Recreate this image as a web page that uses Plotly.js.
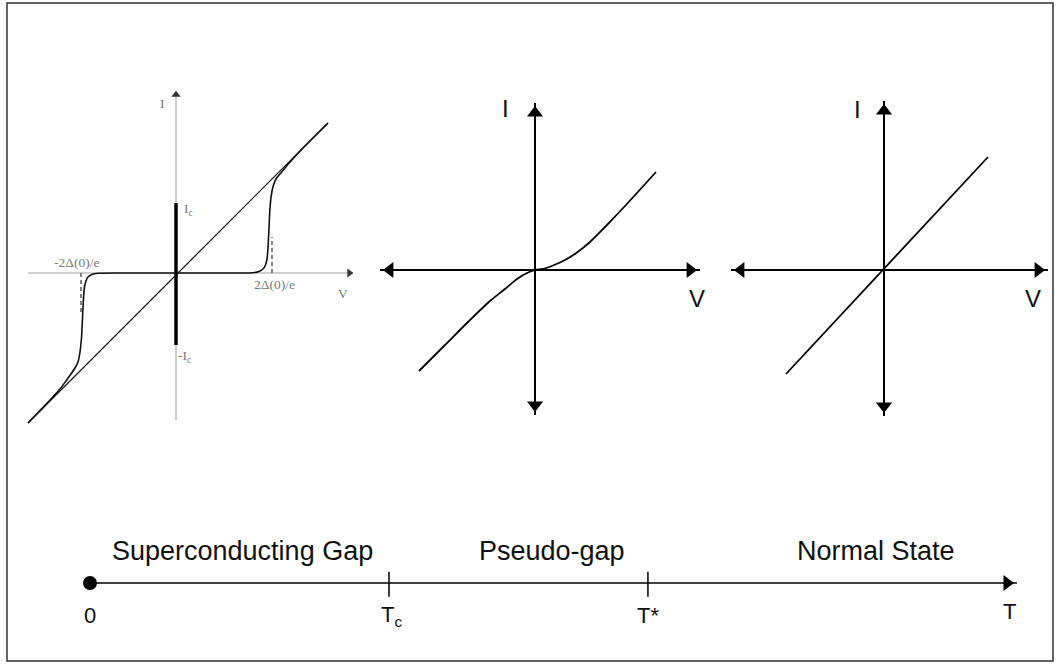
<!DOCTYPE html>
<html><head><meta charset="utf-8">
<script src="https://cdn.plot.ly/plotly-3.0.1.min.js"></script>
<style>html,body{margin:0;padding:0;background:#fff}</style>
</head><body>
<div id="chart" style="width:1057px;height:664px"></div>
<script>
// ---- Data ----
// Panel 1: superconducting gap I-V (quasiparticle branches)
const scRightV = [0, 0.60, 0.77, 0.83, 0.87, 0.895, 0.91, 0.92, 0.93, 0.94, 0.955, 0.975, 1.00, 1.04, 1.09, 1.15, 1.25, 1.52];
const scRightI = [0, 0, 0.003, 0.015, 0.04, 0.08, 0.14, 0.25, 0.45, 0.65, 0.79, 0.88, 0.94, 0.99, 1.05, 1.12, 1.23, 1.50];
const scLeftV = [0, -0.60, -0.78, -0.84, -0.88, -0.90, -0.915, -0.925, -0.935, -0.945, -0.96, -0.98, -1.01, -1.05, -1.10, -1.16, -1.25, -1.48];
const scLeftI = [0, 0, -0.003, -0.015, -0.04, -0.08, -0.14, -0.25, -0.45, -0.65, -0.79, -0.89, -0.95, -1.01, -1.08, -1.16, -1.26, -1.50];
const ohmicV = [-1.48, 1.52];
const ohmicI = [-1.50, 1.50];
const icBarI = [-0.72, 0.70];
const gapDashV = [0.96, -0.95];
const gapDashI = [0.36, -0.40];
// Panel 2: pseudo-gap I-V
const pgV = [-1.16, -0.9, -0.65, -0.45, -0.30, -0.18, -0.08, 0, 0.08, 0.18, 0.30, 0.42, 0.55, 0.70, 0.9, 1.21];
const pgI = [-1.01, -0.75, -0.50, -0.31, -0.19, -0.09, -0.03, 0, 0.01, 0.045, 0.10, 0.175, 0.28, 0.43, 0.64, 0.98];
// Panel 3: normal state I-V
const nV = [-0.98, 1.04];
const nI = [-1.04, 1.13];
// Temperature axis
const tempMarks = [0, 1.0, 1.866];          // 0, Tc, T*
const tempMax = 3.10;
const tempTickLabels = ['0', 'T<sub>c</sub>', 'T*', 'T'];
const regionLabels = ['Superconducting Gap', 'Pseudo-gap', 'Normal State'];
const regionCenters = [0.51, 1.545, 2.63];
const p1Labels = ['I', 'V', 'I<sub>c</sub>', '-I<sub>c</sub>', '-2\u0394(0)/e', '2\u0394(0)/e'];
const ivLabels = ['I', 'V'];

// ---- Layout helpers ----
const W = 1057, H = 664;
function panel(box, origin, s) {
  return {
    xd: [box[0] / W, box[1] / W],
    yd: [1 - box[3] / H, 1 - box[2] / H],
    xr: [(box[0] - origin[0]) / s, (box[1] - origin[0]) / s],
    yr: [(origin[1] - box[3]) / s, (origin[1] - box[2]) / s],
    s: s
  };
}
const P = [
  panel([26, 360, 85, 430], [176, 273], 100),
  panel([370, 710, 95, 425], [535, 270], 100),
  panel([720, 1055, 95, 425], [884, 270], 100)
];
const TL = {xd: [0, 1], yd: [1 - 636 / H, 1 - 530 / H], xr: [-90 / 299, 967 / 299], yr: [-1, 1]};

const traces = [];
function line(xs, ys, k, opts) {
  traces.push(Object.assign({type: 'scatter', mode: 'lines', x: xs, y: ys,
    xaxis: 'x' + (k === 1 ? '' : k), yaxis: 'y' + (k === 1 ? '' : k),
    hoverinfo: 'skip', showlegend: false}, opts));
}
function arrowHead(x, y, dir, k, size, color, s) {
  const off = 1.414 * size / 2 / s;
  let cx = x, cy = y, sym;
  if (dir === 'up') { cy = y - off; sym = 'triangle-up'; }
  if (dir === 'down') { cy = y + off; sym = 'triangle-down'; }
  if (dir === 'right') { cx = x - off; sym = 'triangle-right'; }
  if (dir === 'left') { cx = x + off; sym = 'triangle-left'; }
  traces.push({type: 'scatter', mode: 'markers', x: [cx], y: [cy],
    xaxis: 'x' + (k === 1 ? '' : k), yaxis: 'y' + (k === 1 ? '' : k),
    marker: {symbol: sym, size: size, color: color, line: {width: 0}},
    hoverinfo: 'skip', showlegend: false});
}

// Panel 1 axes (gray, thin)
const gray = '#a0a0a0';
line([-1.48, 1.77], [0, 0], 1, {line: {color: gray, width: 1}});
line([0, 0], [-1.47, 1.81], 1, {line: {color: gray, width: 1}});
arrowHead(1.79, 0, 'right', 1, 8, '#333', 100);
arrowHead(0, 1.84, 'up', 1, 8, '#333', 100);
// Panel 1 curves
line([gapDashV[0], gapDashV[0]], [0, gapDashI[0]], 1, {line: {color: '#444', width: 1.3, dash: '4px,3px'}});
line([gapDashV[1], gapDashV[1]], [0, gapDashI[1]], 1, {line: {color: '#444', width: 1.3, dash: '4px,3px'}});
line(ohmicV, ohmicI, 1, {line: {color: '#111', width: 1.2}});
line(scRightV, scRightI, 1, {line: {color: '#111', width: 1.6, shape: 'spline', smoothing: 0.5}});
line(scLeftV, scLeftI, 1, {line: {color: '#111', width: 1.6, shape: 'spline', smoothing: 0.5}});
line([0, 0], icBarI, 1, {line: {color: '#000', width: 3.5}});

// Panel 2 axes
line([-1.55, 1.65], [0, 0], 2, {line: {color: '#000', width: 2}});
line([0, 0], [-1.45, 1.67], 2, {line: {color: '#000', width: 2}});
arrowHead(1.65, 0, 'right', 2, 14, '#000', 100);
arrowHead(-1.55, 0, 'left', 2, 14, '#000', 100);
arrowHead(0, 1.67, 'up', 2, 14, '#000', 100);
arrowHead(0, -1.45, 'down', 2, 14, '#000', 100);
line(pgV, pgI, 2, {line: {color: '#000', width: 1.8, shape: 'spline', smoothing: 0.8}});

// Panel 3 axes
line([-1.53, 1.64], [0, 0], 3, {line: {color: '#000', width: 2}});
line([0, 0], [-1.46, 1.69], 3, {line: {color: '#000', width: 2}});
arrowHead(1.64, 0, 'right', 3, 14, '#000', 100);
arrowHead(-1.53, 0, 'left', 3, 14, '#000', 100);
arrowHead(0, 1.69, 'up', 3, 14, '#000', 100);
arrowHead(0, -1.46, 'down', 3, 14, '#000', 100);
line(nV, nI, 3, {line: {color: '#000', width: 1.8}});

// Timeline
line([tempMarks[0], tempMax], [0, 0], 4, {line: {color: '#000', width: 1.6}});
arrowHead(tempMax, 0, 'right', 4, 14, '#000', 299);
traces.push({type: 'scatter', mode: 'markers', x: [tempMarks[0]], y: [0], xaxis: 'x4', yaxis: 'y4',
  marker: {symbol: 'circle', size: 14, color: '#000'}, hoverinfo: 'skip', showlegend: false});
for (let i = 1; i < tempMarks.length; i++) {
  line([tempMarks[i], tempMarks[i]], [-0.26, 0.21], 4, {line: {color: '#000', width: 1.5}});
}

// ---- Annotations ----
const ann = [];
const sans = 'Liberation Sans, Arial, sans-serif';
const serif = 'Liberation Serif, Times New Roman, serif';
const p1Pos = [[-0.14, 1.70], [1.67, -0.20], [0.12, 0.64], [0.08, -0.83], [-1.0, 0.11], [0.98, -0.11]];
p1Labels.forEach((t, i) => ann.push({text: t, x: p1Pos[i][0], y: p1Pos[i][1], xref: 'x', yref: 'y',
  showarrow: false, font: {family: serif, size: 13.5, color: '#7a7a7a'}}));
const p2Pos = [[-0.30, 1.62], [1.62, -0.28]];
const p3Pos = [[-0.27, 1.61], [1.49, -0.28]];
ivLabels.forEach((t, i) => {
  ann.push({text: t, x: p2Pos[i][0], y: p2Pos[i][1], xref: 'x2', yref: 'y2', showarrow: false,
    font: {family: sans, size: 24, color: '#111'}});
  ann.push({text: t, x: p3Pos[i][0], y: p3Pos[i][1], xref: 'x3', yref: 'y3', showarrow: false,
    font: {family: sans, size: 24, color: '#111'}});
});
regionLabels.forEach((t, i) => ann.push({text: t, x: regionCenters[i], y: 0.60, xref: 'x4', yref: 'y4',
  showarrow: false, font: {family: sans, size: 27, color: '#111'}}));
const tickX = tempMarks.concat([tempMax - 0.025]);
const tickY = [-0.62, -0.62, -0.62, -0.53];
tempTickLabels.forEach((t, i) => ann.push({text: t, x: tickX[i] + (i === 1 ? 0.01 : 0), y: tickY[i], xref: 'x4', yref: 'y4',
  showarrow: false, font: {family: sans, size: 22, color: '#111'}}));

function ax(d, r) {
  return {domain: d, range: r, visible: false, fixedrange: true, showgrid: false, zeroline: false};
}
const layout = {
  width: W, height: H, margin: {l: 0, r: 0, t: 0, b: 0},
  paper_bgcolor: '#fff', plot_bgcolor: 'rgba(0,0,0,0)', showlegend: false,
  xaxis: ax(P[0].xd, P[0].xr), yaxis: ax(P[0].yd, P[0].yr),
  xaxis2: ax(P[1].xd, P[1].xr), yaxis2: ax(P[1].yd, P[1].yr),
  xaxis3: ax(P[2].xd, P[2].xr), yaxis3: ax(P[2].yd, P[2].yr),
  xaxis4: ax(TL.xd, TL.xr), yaxis4: ax(TL.yd, TL.yr),
  annotations: ann,
  shapes: [{type: 'rect', xref: 'paper', yref: 'paper', x0: 7 / W, x1: 1053 / W,
    y0: 1 - 661 / H, y1: 1 - 3 / H, line: {color: '#333', width: 1.5}}]
};
Plotly.newPlot('chart', traces, layout, {displayModeBar: false, staticPlot: true});
</script>
</body></html>
